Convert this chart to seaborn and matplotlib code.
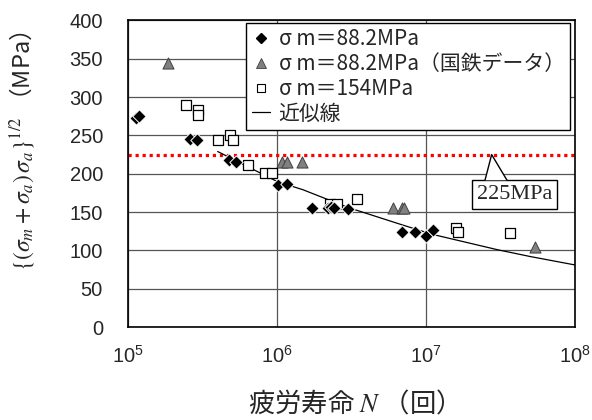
import matplotlib
matplotlib.use("Agg")  # no display
import matplotlib.pyplot as plt
from matplotlib.lines import Line2D
from matplotlib.ticker import NullLocator
import seaborn as sns

# sigma_m = 88.2 MPa (black diamonds)
dia_n = [1.14e5, 1.18e5, 2.6e5, 2.9e5, 4.8e5, 5.3e5, 1.02e6, 1.17e6, 1.71e6,
         2.2e6, 2.3e6, 2.4e6, 3.0e6, 6.9e6, 8.4e6, 1.0e7, 1.12e7]
dia_s = [273, 275, 245, 244, 218, 215, 185, 187, 155,
         155, 156, 155, 154, 124, 124, 119, 126]

# sigma_m = 88.2 MPa, JNR data (grey triangles)
jnr_n = [1.86e5, 1.08e6, 1.16e6, 1.47e6, 6.0e6, 6.9e6, 7.1e6, 5.4e7]
jnr_s = [344, 215, 215, 215, 155, 155, 155, 105]

# sigma_m = 154 MPa (open squares)
sq_n = [2.45e5, 2.96e5, 2.96e5, 4.05e5, 4.85e5, 5.1e5, 6.4e5, 8.3e5, 9.2e5,
        2.27e6, 2.54e6, 3.45e6, 1.59e7, 1.63e7, 3.66e7]
sq_s = [290, 283, 277, 244, 251, 244, 211, 201, 201,
        161, 161, 167, 129, 124, 123]

# approximation curve
fit_n = [4.0e5, 1.0e6, 1.5e6, 3.0e6, 7.0e6, 1.1e7, 3.0e7, 5.0e7, 1.0e8]
fit_s = [229, 190, 179, 156, 133, 121, 101, 92, 81]

limit_value = 225
x_ticks = [1e5, 1e6, 1e7, 1e8]
x_ticklabels = [r"$\mathregular{10^{5}}$", r"$\mathregular{10^{6}}$",
                r"$\mathregular{10^{7}}$", r"$\mathregular{10^{8}}$"]
y_ticks = list(range(0, 401, 50))

legend_labels = ["σ m＝88.2MPa", "σ m＝88.2MPa（国鉄データ）", "σ m＝154MPa", "近似線"]

# callout "225MPa": box centre and pointer (N values, MPa)
callout_text = "225MPa"
callout_box = (3.95e7, 173)
pointer_tip = (2.76e7, limit_value)
pointer_base_n = (2.49e7, 3.50e7)
pointer_base_s = 191.5

sns.set_style("white")
plt.rcParams["font.family"] = ["Noto Sans CJK JP", "DejaVu Sans"]
plt.rcParams["mathtext.fontset"] = "stix"

fig = plt.figure(figsize=(5.92, 4.2), dpi=100)
ax = fig.add_axes([0.2162, 0.2214, 0.755, 0.7298])
ax.set_xscale("log")

ax.axhline(limit_value, color="red", lw=2.3, linestyle=(0, (1, 1.2)), zorder=2)
sns.lineplot(x=fit_n, y=fit_s, color="black", lw=0.9, ax=ax, zorder=3)
sns.scatterplot(x=dia_n, y=dia_s, marker="D", s=46, color="black",
                edgecolor="white", linewidth=0.7, ax=ax, zorder=5, legend=False)
sns.scatterplot(x=jnr_n, y=jnr_s, marker="^", s=64, color="#808080",
                edgecolor="#404040", linewidth=0.7, ax=ax, zorder=4, legend=False)
sns.scatterplot(x=sq_n, y=sq_s, marker="s", s=50, color="white",
                edgecolor="black", linewidth=0.9, ax=ax, zorder=4, legend=False)

ax.set_xlim(1e5, 1e8)
ax.set_ylim(0, 400)
ax.set_xticks(x_ticks)
ax.set_xticklabels(x_ticklabels, fontfamily="Liberation Sans", fontsize=14.5)
ax.xaxis.set_minor_locator(NullLocator())
ax.set_yticks(y_ticks)
ax.set_yticklabels([str(v) for v in y_ticks], fontfamily="Liberation Sans", fontsize=14.5)
ax.tick_params(axis="both", length=0)
ax.tick_params(axis="y", pad=18)
ax.tick_params(axis="x", pad=13)

ax.grid(True, color="#555555", lw=0.9)
ax.set_axisbelow(True)
for sp in ax.spines.values():
    sp.set_color("black")
    sp.set_linewidth(1.2)

ax.set_xlabel(r"疲労寿命 $N$ （回）", fontsize=19)
ax.xaxis.set_label_coords(0.49, -0.205)
ax.set_ylabel(r"$\{(\sigma_m+\sigma_a)\,\sigma_a\}^{1/2}$ （MPa）", fontsize=17)
ax.yaxis.set_label_coords(-0.205, 0.575)

# callout box, then the open pointer drawn over its top edge
ax.text(callout_box[0], callout_box[1], callout_text, ha="center", va="center",
        fontsize=16, fontfamily="Liberation Serif", zorder=6,
        bbox=dict(boxstyle="square,pad=0.22", fc="white", ec="black", lw=1))
ptr_n = [pointer_base_n[0], pointer_tip[0], pointer_base_n[1]]
ptr_s = [pointer_base_s, pointer_tip[1], pointer_base_s]
ax.fill(ptr_n, ptr_s, facecolor="white", edgecolor="none", zorder=6.5)
ax.plot(ptr_n, ptr_s, color="black", lw=1, zorder=6.6)

handles = [
    Line2D([], [], ls="none", marker="D", ms=5, color="black"),
    Line2D([], [], ls="none", marker="^", ms=7, color="#808080", mec="#404040", mew=0.6),
    Line2D([], [], ls="none", marker="s", ms=6, mfc="white", mec="black", mew=0.8),
    Line2D([], [], color="black", lw=0.9),
]
leg = ax.legend(handles, legend_labels, loc="upper right", bbox_to_anchor=(0.989, 0.991),
                borderaxespad=0, fontsize=15, frameon=True, fancybox=False,
                framealpha=1, edgecolor="black", handlelength=0.9,
                handletextpad=0.4, labelspacing=0.13, borderpad=0.25)
leg.get_frame().set_linewidth(1)
leg.set_zorder(7)

fig.savefig("out.png", dpi=100)
